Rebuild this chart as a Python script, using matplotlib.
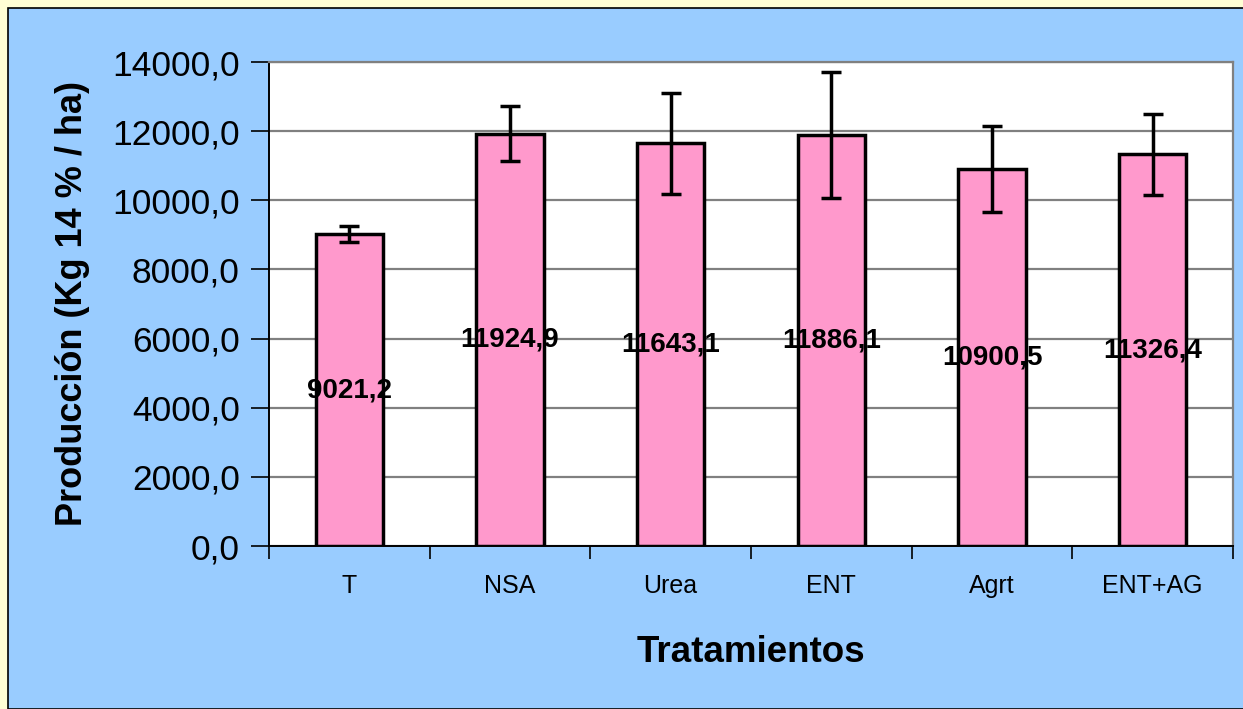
import matplotlib
matplotlib.use("Agg")
import matplotlib.pyplot as plt
from matplotlib.patches import Rectangle
from matplotlib.ticker import FixedLocator

categories = ["T", "NSA", "Urea", "ENT", "Agrt", "ENT+AG"]
values = [9021.2, 11924.9, 11643.1, 11886.1, 10900.5, 11326.4]
errors = [230, 790, 1450, 1830, 1240, 1160]
value_labels = ["9021,2", "11924,9", "11643,1", "11886,1", "10900,5", "11326,4"]
yticks = [0, 2000, 4000, 6000, 8000, 10000, 12000, 14000]
ytick_labels = ["0,0", "2000,0", "4000,0", "6000,0", "8000,0", "10000,0", "12000,0", "14000,0"]

plt.rcParams['font.family'] = ['Liberation Sans', 'DejaVu Sans']

W, H = 1243, 709
fig = plt.figure(figsize=(W / 100, H / 100), dpi=100)
fig.patch.set_facecolor("#FFFFD5")
panel = Rectangle((8 / W, 0), 1.2, 1 - 8 / H, transform=fig.transFigure,
                  facecolor="#99CCFF", edgecolor="black", linewidth=1.2, zorder=-10)
fig.patches.append(panel)

ax = fig.add_axes([269 / W, 1 - 546 / H, (1233 - 269) / W, (546 - 62) / H])
ax.set_zorder(1)
ax.set_facecolor("white")

x = list(range(len(categories)))
ax.bar(x, values, width=0.42, color="#FF99CC", edgecolor="black", linewidth=2.5, zorder=3)
ax.errorbar(x, values, yerr=errors, fmt="none", ecolor="black", elinewidth=2.5,
            capsize=7.5, capthick=2.5, zorder=4)

for xi, v, lab in zip(x, values, value_labels):
    ax.text(xi, v / 2, lab, ha="center", va="center", fontsize=20,
            fontweight="bold", color="black", zorder=5)

ax.set_xlim(-0.5, len(categories) - 0.5)
ax.set_ylim(0, 14000)
ax.yaxis.set_major_locator(FixedLocator(yticks))
ax.set_yticklabels(ytick_labels, fontsize=25.5)
ax.yaxis.grid(True, color="#808080", linewidth=1.6, zorder=1)
ax.set_axisbelow(True)

ax.set_xticks(x)
ax.set_xticklabels(categories, fontsize=18)
ax.tick_params(axis="x", which="major", length=0, pad=20)
ax.xaxis.set_minor_locator(FixedLocator([i - 0.5 for i in range(len(categories) + 1)]))
ax.tick_params(axis="x", which="minor", length=9, width=1.2, color="black", direction="out")
ax.tick_params(axis="y", length=13, width=1.2, color="black", direction="out", pad=8)

for side in ["top", "right"]:
    ax.spines[side].set_color("#808080")
    ax.spines[side].set_linewidth(1.6)
ax.spines["left"].set_color("black")
ax.spines["left"].set_linewidth(1.4)
ax.spines["bottom"].set_color("black")
ax.spines["bottom"].set_linewidth(1.4)

ax.set_ylabel("Producción (Kg 14 % / ha)", fontsize=26, fontweight="bold", labelpad=16)
ax.set_xlabel("Tratamientos", fontsize=26.5, fontweight="bold", labelpad=27)

fig.savefig("out.png", dpi=100, facecolor=fig.get_facecolor())
